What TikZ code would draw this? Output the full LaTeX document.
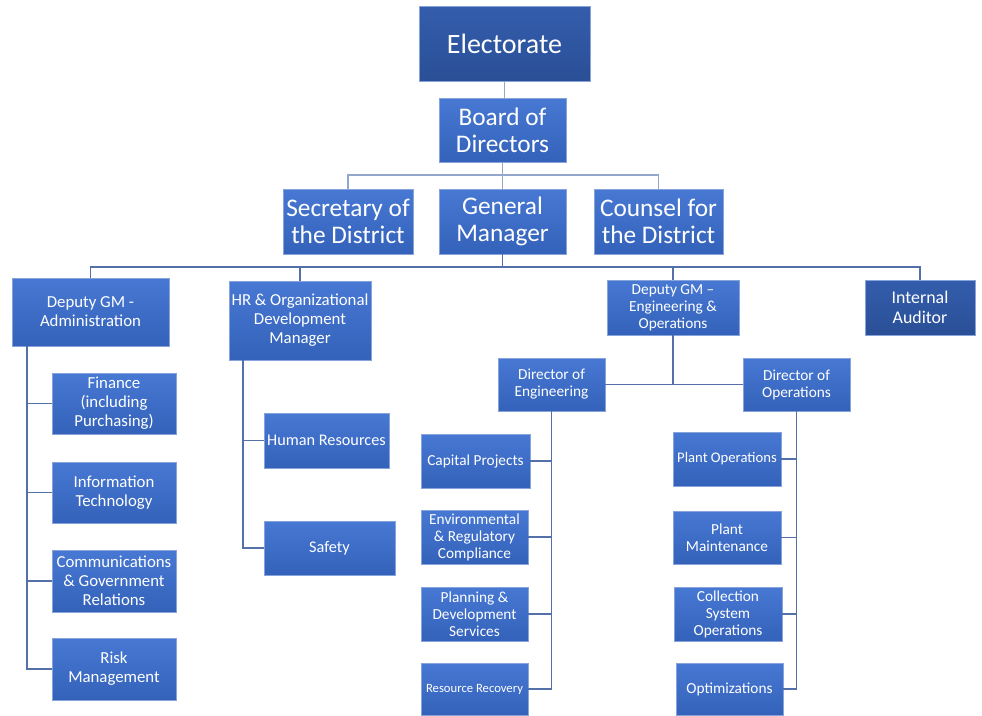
\documentclass[tikz,border=0pt]{standalone}
\usepackage{fontspec}
\setmainfont{Carlito}
\definecolor{boxtop}{HTML}{4778D3}
\definecolor{boxbot}{HTML}{3462BA}
\definecolor{darktop}{HTML}{335DAC}
\definecolor{darkbot}{HTML}{2A4F96}
\definecolor{edge}{HTML}{86A3DA}
\definecolor{wire}{HTML}{5470A8}
\definecolor{lightwire}{HTML}{93A6CB}
\tikzset{
	box/.style={draw=edge, line width=0.6pt, top color=boxtop, bottom color=boxbot,
		text=white, align=center, inner sep=1pt},
	darkbox/.style={box, top color=darktop, bottom color=darkbot},
	sz/.style 2 args={minimum width=#1*0.75pt, minimum height=#2*0.75pt},
	lvlone/.style={font=\fontsize{19}{20.5}\selectfont},
	lvltwo/.style={font=\fontsize{12.6}{14.2}\selectfont},
	lvlthree/.style={font=\fontsize{11.5}{12.8}\selectfont},
	wire/.style={draw=wire, line width=1.1pt},
	topwire/.style={draw=lightwire, line width=1.1pt},
}

\begin{document}
\begin{tikzpicture}[x=0.75pt,y=-0.75pt]
	\useasboundingbox (0,0) rectangle (982,715);
	% board level
	\node[darkbox, sz={171}{75}, font=\fontsize{21}{24}\selectfont] (elect) at (504.5,43.5) {Electorate};
	\node[box, sz={127}{64}, lvlone] (board) at (502.5,130) {Board of\\Directors};
	\node[box, sz={130}{65}, lvlone] (sec) at (348,221.5) {Secretary of\\the District};
	\node[box, sz={127}{65}, lvlone] (gm) at (502.5,221.5) {General\\Manager};
	\node[box, sz={129}{65}, lvlone] (coun) at (658.5,221.5) {Counsel for\\the District};
	% reports to the GM
	\node[box, sz={157}{68}, lvltwo] (dgma) at (90.5,312) {Deputy GM -\\Administration};
	\node[box, sz={142}{79}, lvltwo] (hr) at (300,320.5) {HR \& Organizational\\Development\\Manager};
	\node[box, sz={132}{55}, lvlthree] (dgme) at (673,307.5) {Deputy GM --\\Engineering \&\\Operations};
	\node[darkbox, sz={110}{55}, font=\fontsize{13.4}{15}\selectfont] (aud) at (920,307.5) {Internal\\Auditor};
	\node[box, sz={107}{53}, lvlthree] (dire) at (551.5,384.5) {Director of\\Engineering};
	\node[box, sz={107}{53}, lvlthree] (diro) at (796.5,384.5) {Director of\\Operations};
	% administration
	\node[box, sz={124}{61}, lvltwo] (fin) at (114,403.5) {Finance\\(including\\Purchasing)};
	\node[box, sz={124}{61}, lvltwo] (itec) at (114,492.5) {Information\\Technology};
	\node[box, sz={124}{62}, lvltwo] (comm) at (114,581) {Communications\\\& Government\\Relations};
	\node[box, sz={124}{62}, lvltwo] (risk) at (114,669) {Risk\\Management};
	% hr
	\node[box, sz={125}{55}, font=\fontsize{12.2}{14}\selectfont] (hres) at (326.5,440.5) {Human Resources};
	\node[box, sz={131}{54}, font=\fontsize{12.2}{14}\selectfont] (safe) at (329.5,548) {Safety};
	% engineering
	\node[box, sz={109}{54}, lvlthree] (cap) at (475.5,461) {Capital Projects};
	\node[box, sz={107}{54}, lvlthree] (env) at (474.5,537) {Environmental\\\& Regulatory\\Compliance};
	\node[box, sz={107}{54}, lvlthree] (plan) at (474.5,614) {Planning \&\\Development\\Services};
	\node[box, sz={107}{52}, font=\fontsize{9.5}{11}\selectfont] (recov) at (474.5,689) {Resource Recovery};
	% operations
	\node[box, sz={108}{54}, font=\fontsize{11}{12.8}\selectfont] (pops) at (727,459) {Plant Operations};
	\node[box, sz={108}{53}, lvlthree] (pmnt) at (727,537.5) {Plant\\Maintenance};
	\node[box, sz={108}{54}, lvlthree] (coll) at (728,614) {Collection\\System\\Operations};
	\node[box, sz={107}{52}, lvlthree] (optim) at (729.5,689) {Optimizations};

	% connectors
	\coordinate (bus1) at (502.5,175);
	\coordinate (bus2) at (502.5,267);
	\coordinate (aspine) at (27,346);
	\coordinate (hspine) at (243,360);
	\draw[topwire] (elect.south) -- (elect.south |- board.north);
	\draw[topwire] (board.south) -- (gm.north);
	\foreach \n in {sec,coun}
		\draw[topwire] (bus1) -| (\n.north);
	\draw[wire] (gm.south) -- (bus2);
	\foreach \n in {dgma,hr,dgme,aud}
		\draw[wire] (bus2) -| (\n.north);
	\draw[wire] (dgme.south) |- (dire.east);
	\draw[wire] (dgme.south) |- (diro.west);
	\foreach \n in {fin,itec,comm,risk}
		\draw[wire] (aspine) |- (\n.west);
	\foreach \n in {hres,safe}
		\draw[wire] (hspine) |- (\n.west);
	\foreach \n in {cap,env,plan,recov}
		\draw[wire] (dire.south) |- (\n.east);
	\foreach \n in {pops,pmnt,coll,optim}
		\draw[wire] (diro.south) |- (\n.east);
\end{tikzpicture}
\end{document}
